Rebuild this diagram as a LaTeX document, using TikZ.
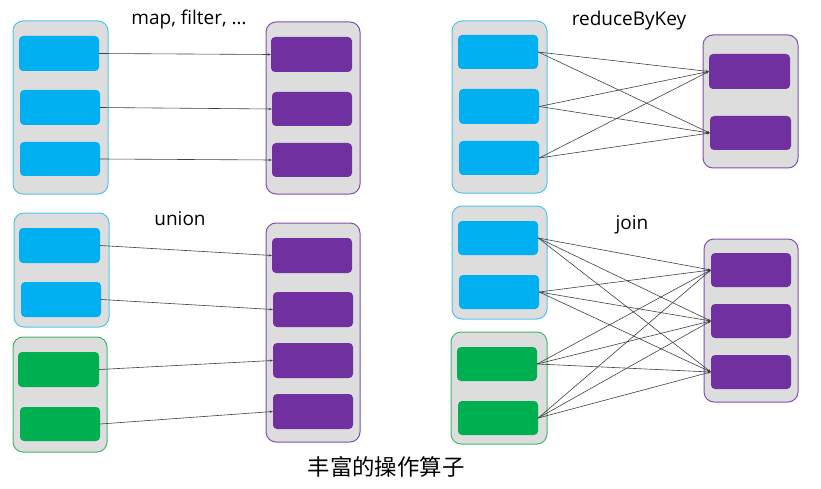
\documentclass[tikz,border=0pt]{standalone}
\usepackage{fontspec}
\setmainfont{Open Sans}
\newfontfamily\cjk{Noto Sans CJK SC}
\usetikzlibrary{fit,arrows.meta}
\definecolor{cblue}{HTML}{00B0F0}
\definecolor{cbluebd}{HTML}{4FC3F0}
\definecolor{cpurple}{HTML}{7030A0}
\definecolor{cpurplebd}{HTML}{8050B0}
\definecolor{cgreen}{HTML}{00B050}
\definecolor{cgreenbd}{HTML}{40B870}
\definecolor{cgray}{HTML}{DDDDDD}
\definecolor{cline}{HTML}{404040}
\tikzset{
  outer/.style={draw, fill=cgray, line width=1pt, rounded corners=10pt, inner sep=0pt},
  outblue/.style={outer, draw=cbluebd},
  outpurple/.style={outer, draw=cpurplebd},
  outgreen/.style={outer, draw=cgreenbd},
  inner/.style={rounded corners=4pt, inner sep=0pt},
  inblue/.style={inner, fill=cblue},
  inpurple/.style={inner, fill=cpurple},
  ingreen/.style={inner, fill=cgreen},
  conn/.style={draw=cline, line width=0.6pt, -{Stealth[length=3pt,width=2.4pt]}},
  lbl/.style={font=\fontsize{19}{21}\selectfont, inner sep=0pt}
}
\begin{document}
\begin{tikzpicture}[x=1pt,y=-1pt]
\useasboundingbox (0,0) rectangle (821,489);
% ---------- top-left: map, filter
\node[outblue, fit={(13,21)(108,194)}] (tlA) {};
\node[outpurple, fit={(266,22)(360,194)}] (tlB) {};
\node[inblue, fit={(19,36)(99,71)}] (tla1) {};
\node[inblue, fit={(20,90)(100,125)}] (tla2) {};
\node[inblue, fit={(20,142)(100,176)}] (tla3) {};
\node[inpurple, fit={(271,37)(352,72)}] (tlb1) {};
\node[inpurple, fit={(272,92)(352,126)}] (tlb2) {};
\node[inpurple, fit={(272,143)(352,177)}] (tlb3) {};
\node[lbl] (tlL) at (189,20) {map, filter, \ldots};
\draw[conn] (tla1.east) -- (tlb1.west);
\draw[conn] (tla2.east) -- (tlb2.west);
\draw[conn] (tla3.east) -- (tlb3.west);
% ---------- top-right: reduceByKey
\node[outblue, fit={(452,21)(547,193)}] (trA) {};
\node[outpurple, fit={(703,35)(798,168)}] (trB) {};
\node[inblue, fit={(458,35)(538,69)}] (tra1) {};
\node[inblue, fit={(459,89)(539,124)}] (tra2) {};
\node[inblue, fit={(459,141)(539,175)}] (tra3) {};
\node[inpurple, fit={(709,54)(790,89)}] (trb1) {};
\node[inpurple, fit={(710,116)(791,150)}] (trb2) {};
\node[lbl] (trL) at (629,21) {reduceByKey};
\foreach \i in {1,2,3}{\foreach \j in {1,2}{\draw[conn] (tra\i.east) -- (trb\j.west);}}
% ---------- bottom-left: union
\node[outblue, fit={(14,213)(109,327)}] (blA) {};
\node[outgreen, fit={(13,337)(107,452)}] (blG) {};
\node[outpurple, fit={(266,223)(360,442)}] (blB) {};
\node[inblue, fit={(19,228)(100,263)}] (bla1) {};
\node[inblue, fit={(21,282)(101,317)}] (bla2) {};
\node[ingreen, fit={(18,352)(99,387)}] (blg1) {};
\node[ingreen, fit={(20,407)(100,441)}] (blg2) {};
\node[inpurple, fit={(272,238)(352,273)}] (blb1) {};
\node[inpurple, fit={(273,292)(353,327)}] (blb2) {};
\node[inpurple, fit={(273,343)(353,378)}] (blb3) {};
\node[inpurple, fit={(273,394)(353,429)}] (blb4) {};
\node[lbl] (blL) at (180,219) {union};
\draw[conn] (bla1.east) -- (blb1.west);
\draw[conn] (bla2.east) -- (blb2.west);
\draw[conn] (blg1.east) -- (blb3.west);
\draw[conn] (blg2.east) -- (blb4.west);
% ---------- bottom-right: join
\node[outblue, fit={(452,206)(547,319)}] (brA) {};
\node[outgreen, fit={(451,332)(547,444)}] (brG) {};
\node[outpurple, fit={(704,239)(798,402)}] (brB) {};
\node[inblue, fit={(458,221)(538,255)}] (bra1) {};
\node[inblue, fit={(459,275)(539,309)}] (bra2) {};
\node[ingreen, fit={(457,347)(537,381)}] (bra3) {};
\node[ingreen, fit={(458,401)(538,435)}] (bra4) {};
\node[inpurple, fit={(711,253)(791,287)}] (brb1) {};
\node[inpurple, fit={(711,304)(791,338)}] (brb2) {};
\node[inpurple, fit={(711,355)(791,389)}] (brb3) {};
\node[lbl] (brL) at (632,225) {join};
\foreach \i in {1,2,3,4}{\foreach \j in {1,2,3}{\draw[conn] (bra\i.east) -- (brb\j.west);}}
% ---------- caption
\node[inner sep=0pt, font=\cjk\fontsize{22.4}{24}\selectfont] (cap) at (386,467) {丰富的操作算子};
\end{tikzpicture}
\end{document}
